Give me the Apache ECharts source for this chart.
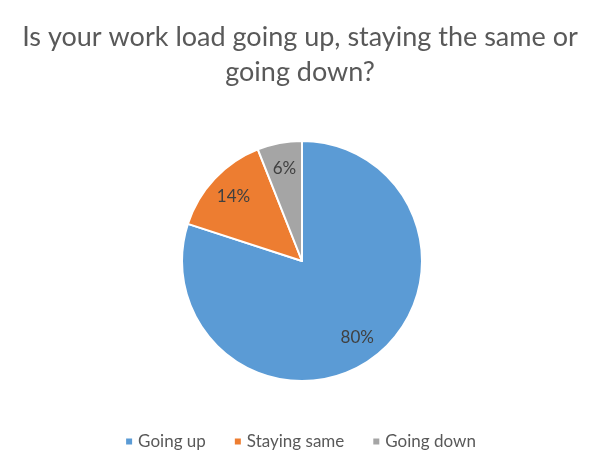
<!DOCTYPE html>
<html><head><meta charset="utf-8">
<script src="https://cdn.jsdelivr.net/npm/echarts@6/dist/echarts.min.js"></script>
<style>html,body{margin:0;padding:0;background:#fff}#c{width:600px;height:468px}</style>
</head><body><div id="c"></div>
<script>
const titleText = 'Is your work load going up, staying the same or\ngoing down?';
const categories = ['Going up', 'Staying same', 'Going down'];
const values = [80, 14, 6];
const colors = ['#5B9BD5', '#ED7D31', '#A5A5A5'];

const data = categories.map((c, i) => ({ name: c, value: values[i] }));
const chart = echarts.init(document.getElementById('c'));
chart.setOption({
  animation: false,
  color: colors,
  title: {
    text: titleText, left: 'center', top: 15,
    textStyle: { fontFamily: 'Lato', fontSize: 27, fontWeight: 'normal', color: '#595959', lineHeight: 35 }
  },
  legend: {
    data: categories, bottom: 13, left: 'center', itemWidth: 8, itemHeight: 8, itemGap: 27, icon: 'rect',
    textStyle: { fontFamily: 'Lato', fontSize: 17, color: '#595959' }
  },
  series: [
    {
      type: 'pie', center: [302, 261], radius: [0, 120], startAngle: 90, clockwise: true,
      data: data, label: { show: false }, labelLine: { show: false },
      itemStyle: { borderColor: '#fff', borderWidth: 2 }, silent: true
    },
    {
      type: 'pie', center: [302, 261], radius: [0, 182], startAngle: 90, clockwise: true,
      data: data, silent: true, legendHoverLink: false,
      itemStyle: { color: 'rgba(0,0,0,0)', borderWidth: 0 },
      label: { show: true, position: 'inside', formatter: '{c}%', fontFamily: 'Lato', fontSize: 17, color: '#404040' },
      labelLine: { show: false }
    }
  ]
});
</script></body></html>
